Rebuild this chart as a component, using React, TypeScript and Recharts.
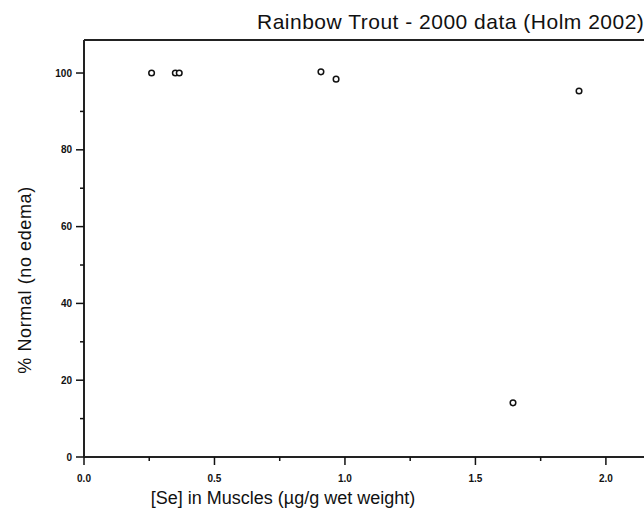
import React from 'react';
import { ScatterChart, Scatter, XAxis, YAxis, ReferenceLine } from 'recharts';

const seMuscle = [0.259, 0.35, 0.365, 0.908, 0.966, 1.644, 1.897];
const pctNormal = [100, 100, 100, 100.3, 98.4, 14.1, 95.3];
const xTicks = [0, 0.25, 0.5, 0.75, 1.0, 1.25, 1.5, 1.75, 2.0];
const yTicks = [0, 10, 20, 30, 40, 50, 60, 70, 80, 90, 100];
const xLabels: Record<string, string> = { '0': '0.0', '0.5': '0.5', '1': '1.0', '1.5': '1.5', '2': '2.0' };
const yMax = 108.6;
const xMax = 2.146;

const title = 'Rainbow Trout - 2000 data (Holm 2002)';
const xTitle = '[Se] in Muscles (µg/g wet weight)';
const yTitle = '% Normal (no edema)';

const data = seMuscle.map((x, i) => ({ x, y: pctNormal[i] }));

const tickFont = '"Liberation Sans", Arial, sans-serif';

const YTick = (props: any) => {
  const { x, y, payload } = props;
  const v = payload.value;
  const major = v % 20 === 0;
  return (
    <g>
      <line x1={x - (major ? 8 : 4)} x2={x} y1={y} y2={y} stroke="#111" strokeWidth={1.5} />
      {major && (
        <text x={x - 12} y={y + 3.5} textAnchor="end" fontSize={10} fontWeight="bold" fontFamily={tickFont} fill="#111">
          {v}
        </text>
      )}
    </g>
  );
};

const XTick = (props: any) => {
  const { x, y, payload } = props;
  const v = payload.value;
  const lab = xLabels[String(v)];
  const major = lab !== undefined;
  return (
    <g>
      <line x1={x} x2={x} y1={y} y2={y + (major ? 8 : 4)} stroke="#111" strokeWidth={1.5} />
      {major && (
        <text x={x} y={y + 25} textAnchor="middle" fontSize={10} fontWeight="bold" fontFamily={tickFont} fill="#111">
          {lab}
        </text>
      )}
    </g>
  );
};

const Dot = (props: any) => {
  const { cx, cy } = props;
  return <circle cx={cx} cy={cy} r={2.8} fill="white" stroke="#111" strokeWidth={1.5} />;
};

export default function App() {
  return (
    <div style={{ position: 'absolute', left: 0, top: 0, width: 644, height: 523, background: 'white' }}>
      <ScatterChart width={644} height={523} margin={{ top: 40, right: 0, bottom: 0, left: 0 }}>
        <XAxis
          type="number"
          dataKey="x"
          domain={[0, xMax]}
          allowDataOverflow
          ticks={xTicks}
          interval={0}
          height={66}
          tickSize={0}
          tickMargin={0}
          tick={<XTick />}
          tickLine={false}
          axisLine={{ stroke: '#222', strokeWidth: 2 }}
          label={{
            content: () => (
              <text x={283} y={504} textAnchor="middle" fontSize={18} fontFamily={tickFont} fill="#111">
                {xTitle}
              </text>
            ),
          }}
        />
        <YAxis
          type="number"
          dataKey="y"
          domain={[0, yMax]}
          allowDataOverflow
          ticks={yTicks}
          interval={0}
          width={84}
          tickSize={0}
          tickMargin={0}
          tick={<YTick />}
          tickLine={false}
          axisLine={{ stroke: '#222', strokeWidth: 2 }}
          label={{
            content: () => (
              <text x={31} y={280} transform="rotate(-90 31 280)" textAnchor="middle" fontSize={18} letterSpacing={0.6} fontFamily={tickFont} fill="#111">
                {yTitle}
              </text>
            ),
          }}
        />
        <ReferenceLine y={yMax} stroke="#222" strokeWidth={2} ifOverflow="extendDomain" />
        <Scatter data={data} shape={<Dot />} isAnimationActive={false} />
      </ScatterChart>
      <div
        style={{
          position: 'absolute',
          left: 257,
          top: 9,
          fontFamily: tickFont,
          fontSize: 21,
          letterSpacing: '0.5px',
          color: '#111',
          whiteSpace: 'nowrap',
          lineHeight: '25px',
        }}
      >
        {title}
      </div>
    </div>
  );
}
